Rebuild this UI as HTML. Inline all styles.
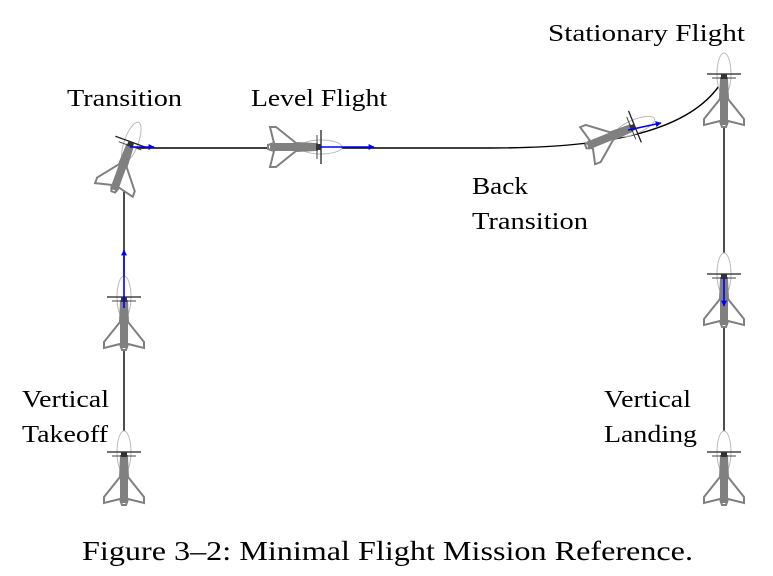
<!DOCTYPE html>
<html><head><meta charset="utf-8"><style>
html,body{margin:0;padding:0;background:#fff;}
svg{display:block;}
text{font-family:"Liberation Serif",serif;fill:#000;}
</style></head><body>
<svg width="773" height="576" viewBox="0 0 773 576">
<defs>
<marker id="ah" viewBox="0 0 10 10" refX="9" refY="5" markerWidth="6" markerHeight="6" orient="auto" markerUnits="userSpaceOnUse">
<path d="M0,0 L10,5 L0,10 z" fill="#00f"/>
</marker>
<g id="ac">
  <ellipse cx="0" cy="-1" rx="7" ry="21" fill="#fff" stroke="#bbb" stroke-width="1"/>
  <path d="M-3,4 L-4,24 L-20,44 L-20,50 L-4,46 L-2,52 L2,52 L4,46 L20,50 L20,44 L4,24 L3,4 z" fill="#fff" stroke="#808080" stroke-width="2"/>
  <path d="M-4,2 L-4,50 L4,50 L4,2 z" fill="#808080"/>
  <line x1="-17" y1="-1" x2="17" y2="-1" stroke="#222" stroke-width="1.3"/>
  <line x1="-12" y1="3" x2="12" y2="3" stroke="#444" stroke-width="1"/>
  <rect x="-3" y="-1" width="6" height="5" fill="#333"/>
</g>
</defs>

<g fill="none" stroke="#000" stroke-width="1.4">
  <line x1="124" y1="505" x2="124" y2="148"/>
  <path d="M124,148 L490,148 C580,148 690,140 724,78"/>
  <line x1="724" y1="78" x2="724" y2="505"/>
</g>

<g>
  <use href="#ac" transform="translate(124,453)"/>
  <use href="#ac" transform="translate(124,298)"/>
  <use href="#ac" transform="translate(131,143) rotate(20)"/>
  <use href="#ac" transform="translate(320,147) rotate(90)"/>
  <use href="#ac" transform="translate(634,127) rotate(68)"/>
  <use href="#ac" transform="translate(724,75)"/>
  <use href="#ac" transform="translate(724,275)"/>
  <use href="#ac" transform="translate(724,453)"/>
</g>

<g stroke="#00f" stroke-width="1.6" marker-end="url(#ah)">
  <line x1="124" y1="308" x2="124" y2="250"/>
  <line x1="130" y1="147" x2="154" y2="147"/>
  <line x1="320" y1="147" x2="374" y2="147"/>
  <line x1="628" y1="130" x2="661" y2="123"/>
  <line x1="724" y1="278" x2="724" y2="306"/>
</g>

<g font-size="24">
  <text x="67" y="106" textLength="115" lengthAdjust="spacingAndGlyphs">Transition</text>
  <text x="251" y="106" textLength="136" lengthAdjust="spacingAndGlyphs">Level Flight</text>
  <text x="548" y="41" textLength="197" lengthAdjust="spacingAndGlyphs">Stationary Flight</text>
  <text x="472" y="194" textLength="56" lengthAdjust="spacingAndGlyphs">Back</text>
  <text x="472" y="229" textLength="116" lengthAdjust="spacingAndGlyphs">Transition</text>
  <text x="22" y="407" textLength="87" lengthAdjust="spacingAndGlyphs">Vertical</text>
  <text x="22" y="442" textLength="86" lengthAdjust="spacingAndGlyphs">Takeoff</text>
  <text x="604" y="407" textLength="87" lengthAdjust="spacingAndGlyphs">Vertical</text>
  <text x="604" y="442" textLength="93" lengthAdjust="spacingAndGlyphs">Landing</text>
</g>
<text x="82" y="560" font-size="27" textLength="611" lengthAdjust="spacingAndGlyphs">Figure 3–2: Minimal Flight Mission Reference.</text>
</svg>
</body></html>
